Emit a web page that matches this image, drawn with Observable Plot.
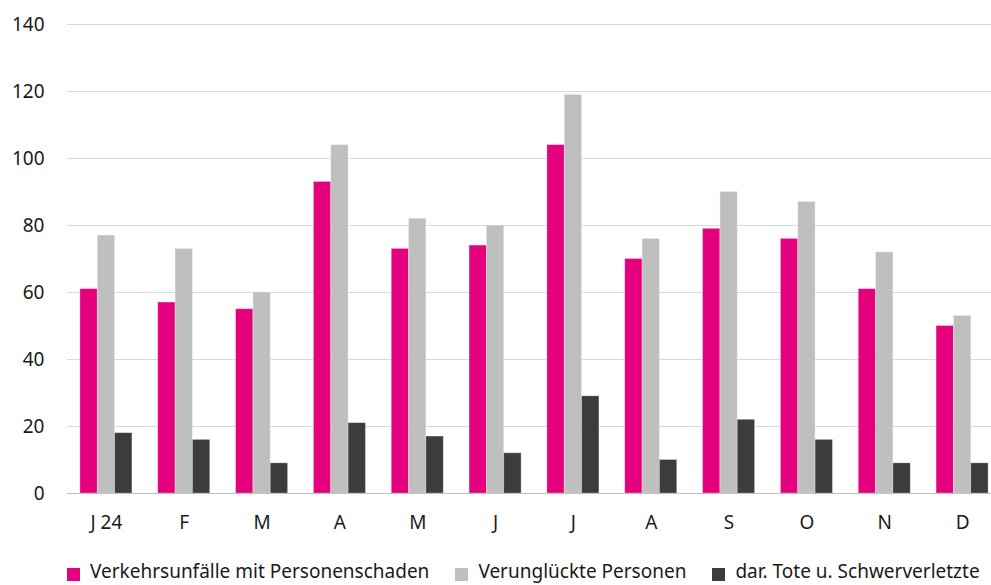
<!DOCTYPE html>
<html><head><meta charset="utf-8">
<script src="https://cdn.jsdelivr.net/npm/d3@7"></script>
<script src="https://cdn.jsdelivr.net/npm/@observablehq/plot@0.6"></script>
<style>
body{margin:0;background:#fff;overflow:hidden;font-family:"Noto Sans",sans-serif;}
#wrap{position:relative;width:991px;height:585px;overflow:hidden;}
#legend{position:absolute;left:67px;top:561px;display:flex;gap:26px;font-size:19px;line-height:20px;color:#1a1a1a;white-space:nowrap;}
.item{display:flex;align-items:center;}
.sw{width:13px;height:13px;margin-right:10px;flex:none;position:relative;top:3px;}
</style></head><body><div id="wrap"><div id="chart"></div><div id="legend"></div></div>
<script>
const monthLabels = ["J 24","F","M","A","M","J","J","A","S","O","N","D"];
const seriesNames = ["Verkehrsunfälle mit Personenschaden","Verunglückte Personen","dar. Tote u. Schwerverletzte"];
const seriesColors = ["#e5007e","#bfbfbf","#3c3c3b"];
const unfaelle = [61,57,55,93,73,74,104,70,79,76,61,50];
const verunglueckte = [77,73,60,104,82,80,119,76,90,87,72,53];
const toteSchwer = [18,16,9,21,17,12,29,10,22,16,9,9];
const yTicks = [0,20,40,60,80,100,120,140];

const seriesValues = [unfaelle, verunglueckte, toteSchwer];
const idx = d3.range(monthLabels.length);
const xRange = [67, 1001], pIn = 0.332, pOut = 0.166;
const step = (xRange[1] - xRange[0]) / (idx.length - pIn + 2 * pOut);
const bw = step * (1 - pIn), third = bw / 3;

const barMarks = seriesValues.map((vals, s) =>
  Plot.barY(idx.map(i => ({m: i, v: vals[i]})), {
    x: "m", y: "v", fill: seriesColors[s],
    insetLeft: s * third, insetRight: (2 - s) * third,
    stroke: "#ffffff", strokeOpacity: 0.35, strokeWidth: 0.8
  })
);

const chart = Plot.plot({
  width: 991, height: 550,
  marginLeft: 67, marginRight: 0, marginTop: 24, marginBottom: 57,
  style: {fontSize: "19px", fontFamily: "Noto Sans", color: "#1a1a1a", background: "#fff"},
  x: {domain: idx, range: xRange, round: false, paddingInner: pIn, paddingOuter: pOut, tickSize: 0, tickPadding: 22, tickFormat: i => monthLabels[i], label: null},
  y: {domain: [0, 140], ticks: yTicks, tickSize: 0, tickPadding: 23, label: null},
  marks: [
    Plot.ruleY(yTicks.filter(t => t > 0), {stroke: "#d9d9d9", strokeWidth: 1}),
    ...barMarks,
    Plot.ruleY([0], {stroke: "#bfbfbf", strokeWidth: 1.2})
  ]
});
document.getElementById("chart").appendChild(chart);

const legend = document.getElementById("legend");
seriesNames.forEach((name, s) => {
  const it = document.createElement("div"); it.className = "item";
  const sw = document.createElement("span"); sw.className = "sw"; sw.style.background = seriesColors[s];
  const tx = document.createElement("span"); tx.textContent = name;
  it.appendChild(sw); it.appendChild(tx); legend.appendChild(it);
});
</script></body></html>
